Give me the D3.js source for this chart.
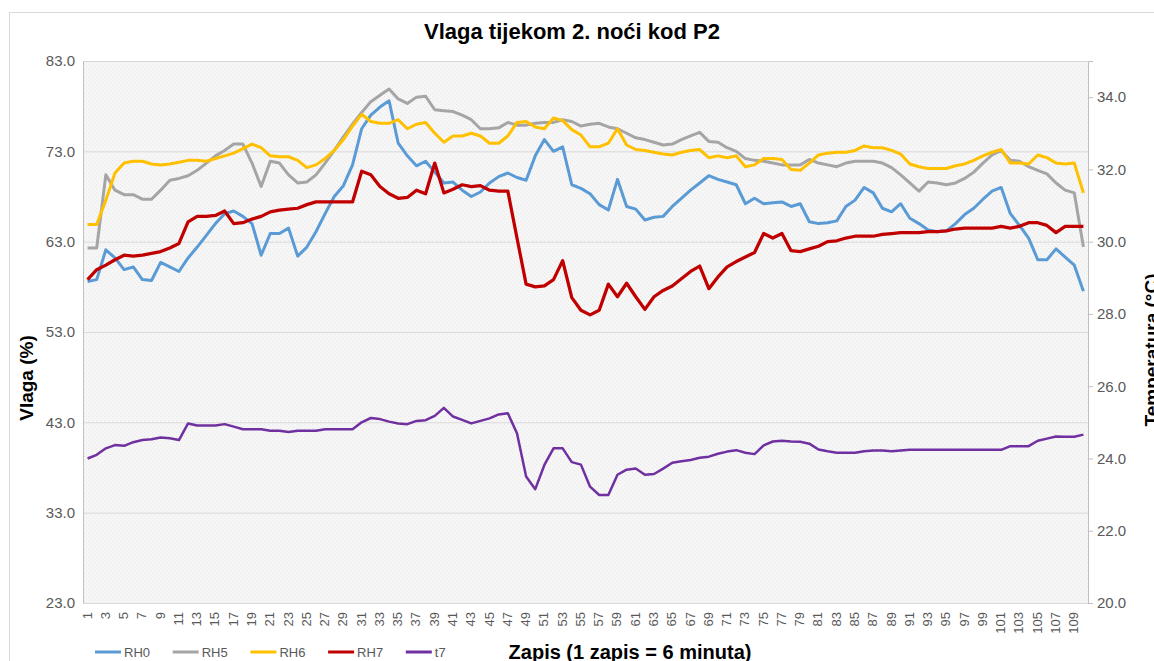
<!DOCTYPE html>
<html>
<head>
<meta charset="utf-8">
<script src="https://cdn.jsdelivr.net/npm/d3@7"></script>
<style>
  html, body { margin: 0; padding: 0; background: #fff; }
  svg { display: block; font-family: "Liberation Sans", Arial, sans-serif; }
</style>
</head>
<body>
<svg id="chart" width="1154" height="661"></svg>
<script>
// 110 records, one every 6 minutes
var records = d3.range(1, 111)

var rh0 = [58.6, 58.8, 62.1, 61.2, 59.9, 60.2, 58.8, 58.7, 60.7, 60.2,
  59.7, 61.2, 62.4, 63.7, 65.0, 66.1, 66.4, 65.8, 65.0, 61.5,
  63.9, 63.9, 64.5, 61.4, 62.4, 64.1, 66.1, 68.0, 69.2, 71.5,
  75.5, 77.0, 77.9, 78.6, 73.9, 72.5, 71.4, 71.9, 70.7, 69.5,
  69.6, 68.7, 68.0, 68.5, 69.5, 70.2, 70.6, 70.1, 69.8, 72.5,
  74.3, 73.0, 73.5, 69.3, 68.9, 68.3, 67.1, 66.5, 69.9, 66.9,
  66.6, 65.4, 65.7, 65.8, 66.9, 67.8, 68.7, 69.5, 70.3, 69.9,
  69.6, 69.3, 67.2, 67.8, 67.2, 67.3, 67.4, 66.9, 67.2, 65.2,
  65.0, 65.1, 65.3, 66.9, 67.6, 69.0, 68.4, 66.7, 66.3, 67.2,
  65.6, 65.0, 64.3, 64.1, 64.2, 65.0, 66.0, 66.7, 67.7, 68.6,
  69.0, 66.1, 64.8, 63.4, 61.0, 61.0, 62.2, 61.3, 60.4, 57.5]

var rh5 = [62.3, 62.3, 70.4, 68.7, 68.2, 68.2, 67.7, 67.7, 68.7, 69.8,
  70.0, 70.3, 70.9, 71.7, 72.5, 73.1, 73.8, 73.8, 71.7, 69.1,
  71.9, 71.7, 70.4, 69.5, 69.6, 70.4, 71.7, 73.1, 74.6, 76.0,
  77.3, 78.5, 79.2, 79.9, 78.8, 78.3, 79.0, 79.1, 77.6, 77.5,
  77.4, 77.0, 76.5, 75.5, 75.5, 75.6, 76.2, 75.9, 75.9, 76.1,
  76.2, 76.2, 76.5, 76.3, 75.8, 76.0, 76.1, 75.7, 75.5, 75.0,
  74.5, 74.3, 74.0, 73.7, 73.8, 74.3, 74.7, 75.1, 74.1, 74.0,
  73.4, 73.0, 72.2, 72.0, 71.9, 71.7, 71.5, 71.5, 71.5, 72.1,
  71.7, 71.5, 71.3, 71.7, 71.9, 71.9, 71.9, 71.7, 71.2, 70.4,
  69.5, 68.6, 69.6, 69.5, 69.3, 69.5, 70.0, 70.7, 71.7, 72.6,
  73.1, 72.0, 71.9, 71.3, 70.9, 70.5, 69.5, 68.7, 68.4, 62.4]

var rh6 = [64.9, 64.9, 67.6, 70.6, 71.7, 71.9, 71.9, 71.6, 71.5, 71.6,
  71.8, 72.0, 72.0, 71.9, 72.2, 72.5, 72.8, 73.3, 73.8, 73.4,
  72.5, 72.4, 72.4, 72.0, 71.2, 71.5, 72.2, 73.1, 74.3, 75.8,
  77.1, 76.3, 76.1, 76.1, 76.5, 75.5, 76.0, 76.2, 75.0, 74.0,
  74.7, 74.7, 75.0, 74.7, 73.9, 73.9, 74.7, 76.2, 76.3, 75.7,
  75.5, 76.7, 76.4, 75.4, 74.8, 73.5, 73.5, 73.9, 75.5, 73.7,
  73.2, 73.1, 72.9, 72.7, 72.6, 72.9, 73.1, 73.2, 72.3, 72.5,
  72.3, 72.5, 71.3, 71.5, 72.2, 72.2, 72.1, 71.0, 70.9, 71.7,
  72.6, 72.8, 72.9, 72.9, 73.1, 73.6, 73.4, 73.4, 73.1, 72.7,
  71.6, 71.3, 71.1, 71.1, 71.1, 71.4, 71.6, 72.0, 72.5, 72.9,
  73.2, 71.7, 71.7, 71.6, 72.6, 72.3, 71.7, 71.6, 71.7, 68.4]

var rh7 = [58.8, 59.9, 60.4, 61.0, 61.5, 61.4, 61.5, 61.7, 61.9, 62.3,
  62.8, 65.2, 65.8, 65.8, 65.9, 66.4, 65.0, 65.1, 65.5, 65.8,
  66.3, 66.5, 66.6, 66.7, 67.1, 67.4, 67.4, 67.4, 67.4, 67.4,
  70.8, 70.4, 69.1, 68.3, 67.8, 67.9, 68.7, 68.3, 71.7, 68.4,
  68.8, 69.3, 69.1, 69.2, 68.7, 68.6, 68.6, 63.4, 58.3, 58.0,
  58.1, 58.8, 60.9, 56.8, 55.4, 54.9, 55.4, 58.3, 56.9, 58.4,
  56.9, 55.5, 56.9, 57.6, 58.1, 58.9, 59.7, 60.3, 57.8, 59.1,
  60.2, 60.8, 61.3, 61.8, 63.9, 63.4, 63.9, 62.0, 61.9, 62.2,
  62.5, 63.0, 63.1, 63.4, 63.6, 63.6, 63.6, 63.8, 63.9, 64.0,
  64.0, 64.0, 64.1, 64.1, 64.2, 64.4, 64.5, 64.5, 64.5, 64.5,
  64.7, 64.5, 64.7, 65.1, 65.1, 64.8, 64.0, 64.7, 64.7, 64.7]

// temperature, right axis
var t7 = [24.00, 24.10, 24.28, 24.37, 24.35, 24.45, 24.51, 24.53, 24.58, 24.56,
  24.51, 24.97, 24.91, 24.91, 24.91, 24.95, 24.88, 24.81, 24.81, 24.81,
  24.77, 24.77, 24.73, 24.77, 24.77, 24.77, 24.81, 24.81, 24.81, 24.81,
  25.00, 25.12, 25.09, 25.02, 24.97, 24.95, 25.04, 25.06, 25.18, 25.40,
  25.16, 25.07, 24.97, 25.04, 25.11, 25.22, 25.25, 24.70, 23.50, 23.15,
  23.82, 24.28, 24.28, 23.90, 23.83, 23.22, 22.99, 22.99, 23.55, 23.69,
  23.72, 23.55, 23.57, 23.72, 23.88, 23.92, 23.96, 24.02, 24.05, 24.13,
  24.19, 24.23, 24.16, 24.12, 24.36, 24.47, 24.49, 24.47, 24.46, 24.41,
  24.25, 24.20, 24.16, 24.16, 24.16, 24.20, 24.22, 24.22, 24.20, 24.22,
  24.24, 24.24, 24.24, 24.24, 24.24, 24.24, 24.24, 24.24, 24.24, 24.24,
  24.24, 24.34, 24.34, 24.34, 24.49, 24.55, 24.61, 24.60, 24.60, 24.66]

var seriesNames = ['RH0', 'RH5', 'RH6', 'RH7', 't7']
var leftTicks = [23, 33, 43, 53, 63, 73, 83]
var rightTicks = [20, 22, 24, 26, 28, 30, 32, 34]

var colors = {
  'RH0': '#5B9BD5',
  'RH5': '#A5A5A5',
  'RH6': '#FFC000',
  'RH7': '#C00000',
  't7': '#7030A0'
}

var W = 1154, H = 661
var plot = { left: 83, right: 1088, top: 61, bottom: 603 }

var svg = d3.select('#chart')

// pattern for the plot background
var defs = svg.append('defs')
var pat = defs.append('pattern')
  .attr('id', 'dots')
  .attr('width', 4)
  .attr('height', 4)
  .attr('patternUnits', 'userSpaceOnUse')
pat.append('rect').attr('width', 4).attr('height', 4).attr('fill', '#f6f6f6')
pat.append('rect').attr('width', 1).attr('height', 1).attr('fill', '#e8e8e8')
pat.append('rect').attr('x', 2).attr('y', 2).attr('width', 1).attr('height', 1).attr('fill', '#e8e8e8')

// chart border
svg.append('rect')
  .attr('x', 9.5).attr('y', 12.5)
  .attr('width', W).attr('height', H)
  .attr('fill', '#fff')
  .attr('stroke', '#d9d9d9')

svg.append('text')
  .attr('x', 572).attr('y', 39)
  .attr('text-anchor', 'middle')
  .style('font-size', '22px')
  .style('font-weight', 'bold')
  .style('fill', '#000')
  .text('Vlaga tijekom 2. noći kod P2')

var xScale = d3.scaleBand()
  .domain(records)
  .range([plot.left, plot.right])
  .paddingInner(0)
  .paddingOuter(0)
var bw = xScale.bandwidth()
var xPos = d => xScale(d) + bw / 2

var yLeft = d3.scaleLinear()
  .domain([23, 83])
  .range([plot.bottom, plot.top])

var yRight = d3.scaleLinear()
  .domain([20, 35])
  .range([plot.bottom, plot.top])

svg.append('rect')
  .attr('x', plot.left).attr('y', plot.top)
  .attr('width', plot.right - plot.left)
  .attr('height', plot.bottom - plot.top)
  .attr('fill', 'url(#dots)')

// Y grid
svg.append('g')
  .attr('class', 'grid')
  .attr('transform', `translate(${plot.left},0)`)
  .call(d3.axisLeft(yLeft)
    .tickValues(leftTicks)
    .tickSize(-(plot.right - plot.left))
    .tickFormat(''))
  .call(g => g.select('.domain').remove())
  .selectAll('line')
  .style('stroke', '#d9d9d9')

// left axis
svg.append('g')
  .attr('class', 'y-axis')
  .attr('transform', `translate(${plot.left},0)`)
  .call(d3.axisLeft(yLeft)
    .tickValues(leftTicks)
    .tickSize(0)
    .tickPadding(8)
    .tickFormat(d3.format('.1f')))
  .call(g => g.select('.domain').style('stroke', '#bfbfbf'))
  .selectAll('text')
  .style('font-size', '15px')
  .style('fill', '#595959')
  .style('font-family', '"Liberation Sans", Arial, sans-serif')

// right axis
svg.append('g')
  .attr('class', 'y2-axis')
  .attr('transform', `translate(${plot.right},0)`)
  .call(d3.axisRight(yRight)
    .tickValues(rightTicks)
    .tickSize(5)
    .tickPadding(4)
    .tickFormat(d3.format('.1f')))
  .call(g => g.selectAll('.domain, line').style('stroke', '#bfbfbf'))
  .selectAll('text')
  .style('font-size', '15px')
  .style('fill', '#595959')
  .style('font-family', '"Liberation Sans", Arial, sans-serif')

// x labels, every second record, rotated
svg.append('g')
  .attr('class', 'x-axis')
  .selectAll('text')
  .data(records.filter(d => d % 2 === 1))
  .enter()
  .append('text')
  .attr('transform', d => `translate(${xPos(d) + 4},${plot.bottom + 9}) rotate(-90)`)
  .attr('text-anchor', 'end')
  .style('font-size', '13px')
  .style('fill', '#595959')
  .text(d => d)

// axis titles
svg.append('text')
  .attr('transform', 'translate(33,378) rotate(-90)')
  .attr('text-anchor', 'middle')
  .style('font-size', '19px')
  .style('font-weight', 'bold')
  .text('Vlaga (%)')

// the reference crops this title at the right edge
svg.append('text')
  .attr('transform', 'translate(1158,350) rotate(-90)')
  .attr('text-anchor', 'middle')
  .style('font-size', '19px')
  .style('font-weight', 'bold')
  .text('Temperatura (°C)')

svg.append('text')
  .attr('x', 630).attr('y', 659)
  .attr('text-anchor', 'middle')
  .style('font-size', '20px')
  .style('font-weight', 'bold')
  .text('Zapis (1 zapis = 6 minuta)')

// lines
var rhLine = d3.line()
  .x((d, i) => xPos(records[i]))
  .y(d => yLeft(d))

var tLine = d3.line()
  .x((d, i) => xPos(records[i]))
  .y(d => yRight(d))

var linesG = svg.append('g').attr('class', 'lines')
var rhData = { 'RH0': rh0, 'RH5': rh5, 'RH6': rh6, 'RH7': rh7 }

;['RH0', 'RH5', 'RH6', 'RH7'].forEach(function(s) {
  linesG.append('path')
    .datum(rhData[s])
    .attr('d', rhLine)
    .attr('fill', 'none')
    .style('stroke', colors[s])
    .style('stroke-width', s === 'RH7' ? 3.25 : 3)
    .style('stroke-linejoin', 'round')
})

linesG.append('path')
  .datum(t7)
  .attr('d', tLine)
  .attr('fill', 'none')
  .style('stroke', colors['t7'])
  .style('stroke-width', 2.5)
  .style('stroke-linejoin', 'round')

// legend
var legend = svg.append('g')
  .attr('class', 'legend')
  .selectAll('g')
  .data(seriesNames)
  .enter()
  .append('g')
  .attr('transform', (d, i) => `translate(${95 + i * 77.7},652)`)

legend.append('line')
  .attr('x1', 0).attr('x2', 26)
  .style('stroke', d => colors[d])
  .style('stroke-width', 3)

legend.append('text')
  .attr('x', 29).attr('y', 5)
  .style('font-size', '13px')
  .style('fill', '#595959')
  .text(d => d)
</script>
</body>
</html>
